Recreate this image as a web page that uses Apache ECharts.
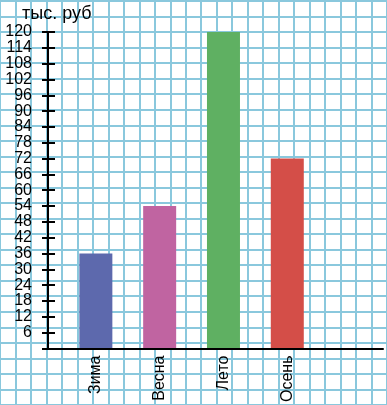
<!DOCTYPE html>
<html>
<head>
<meta charset="utf-8">
<script src="https://cdn.jsdelivr.net/npm/echarts@6/dist/echarts.min.js"></script>
<style>
html,body{margin:0;padding:0;background:#fff;}
#c{width:387px;height:405px;}
</style>
</head>
<body>
<div id="c"></div>
<script>
const categories = ['Зима', 'Весна', 'Лето', 'Осень'];
const values = [36, 54, 120, 72];
const yTickLabels = ['6','12','18','24','30','36','42','48','54','60','66','72','78','84','90','96','102','108','114','120'];
const unitLabel = 'тыс. руб';

const palette = ['#5d69ad', '#c064a1', '#5fb062', '#d44e48'];
const FONT = '"Liberation Sans", Arial, sans-serif';

// category slots along the paper grid (one slot per paper cell)
const SLOTS = 22, FIRST = 3, STEP = 4;
const axisData = [];
const seriesData = [];
for (let k = 0; k < SLOTS; k++) { axisData.push(''); seriesData.push('-'); }
categories.forEach((c, i) => {
  const s = FIRST + STEP * i;
  axisData[s] = c;
  seriesData[s] = { value: values[i], itemStyle: { color: palette[i] } };
});

const chart = echarts.init(document.getElementById('c'), null, { renderer: 'canvas' });
const gridLine = { show: true, lineStyle: { color: '#8ac8dd', width: 2 } };
chart.setOption({
  animation: false,
  backgroundColor: '#fff',
  title: {
    text: unitLabel, left: 17, top: 0,
    textStyle: { fontFamily: FONT, fontSize: 18, fontWeight: 'normal', color: '#000' }
  },
  grid: [
    { left: 48, top: 32, width: 335, height: 320 },
    { left: 0, top: 1, width: 400, height: 416 }
  ],
  xAxis: [
    {
      gridIndex: 0, type: 'category', data: axisData, boundaryGap: false,
      axisLine: { lineStyle: { color: '#000', width: 2 } },
      axisTick: { show: false },
      axisLabel: { interval: 0, rotate: 90, margin: 7, fontFamily: FONT, fontSize: 16, color: '#000' },
      splitLine: { show: false }, z: 5
    },
    {
      gridIndex: 1, type: 'value', min: 0, max: 25, interval: 1,
      axisLine: { show: false }, axisTick: { show: false }, axisLabel: { show: false },
      splitLine: gridLine, z: 0
    }
  ],
  yAxis: [
    {
      gridIndex: 0, type: 'value', min: 0, max: 120, interval: 6,
      axisLine: { show: true, lineStyle: { color: '#000', width: 2 } },
      axisTick: { show: true, length: 6, lineStyle: { color: '#000', width: 2 } },
      axisLabel: {
        margin: 16, fontFamily: FONT, fontSize: 16, color: '#000',
        formatter: v => { const i = Math.round(v / 6) - 1; return i >= 0 ? yTickLabels[i] : ''; }
      },
      splitLine: { show: false }, z: 5
    },
    {
      gridIndex: 0, type: 'value', min: 0, max: 120, interval: 6, position: 'left',
      axisLine: { show: false },
      axisTick: { show: true, inside: true, length: 7, lineStyle: { color: '#000', width: 2 } },
      axisLabel: { show: false },
      splitLine: { show: false }, z: 5
    },
    {
      gridIndex: 1, type: 'value', min: 0, max: 26, interval: 1, inverse: true,
      axisLine: { show: false }, axisTick: { show: false }, axisLabel: { show: false },
      splitLine: gridLine, z: 0
    }
  ],
  series: [
    {
      type: 'bar', xAxisIndex: 0, yAxisIndex: 0, data: seriesData,
      barWidth: 33, z: 3
    }
  ]
});
</script>
</body>
</html>
